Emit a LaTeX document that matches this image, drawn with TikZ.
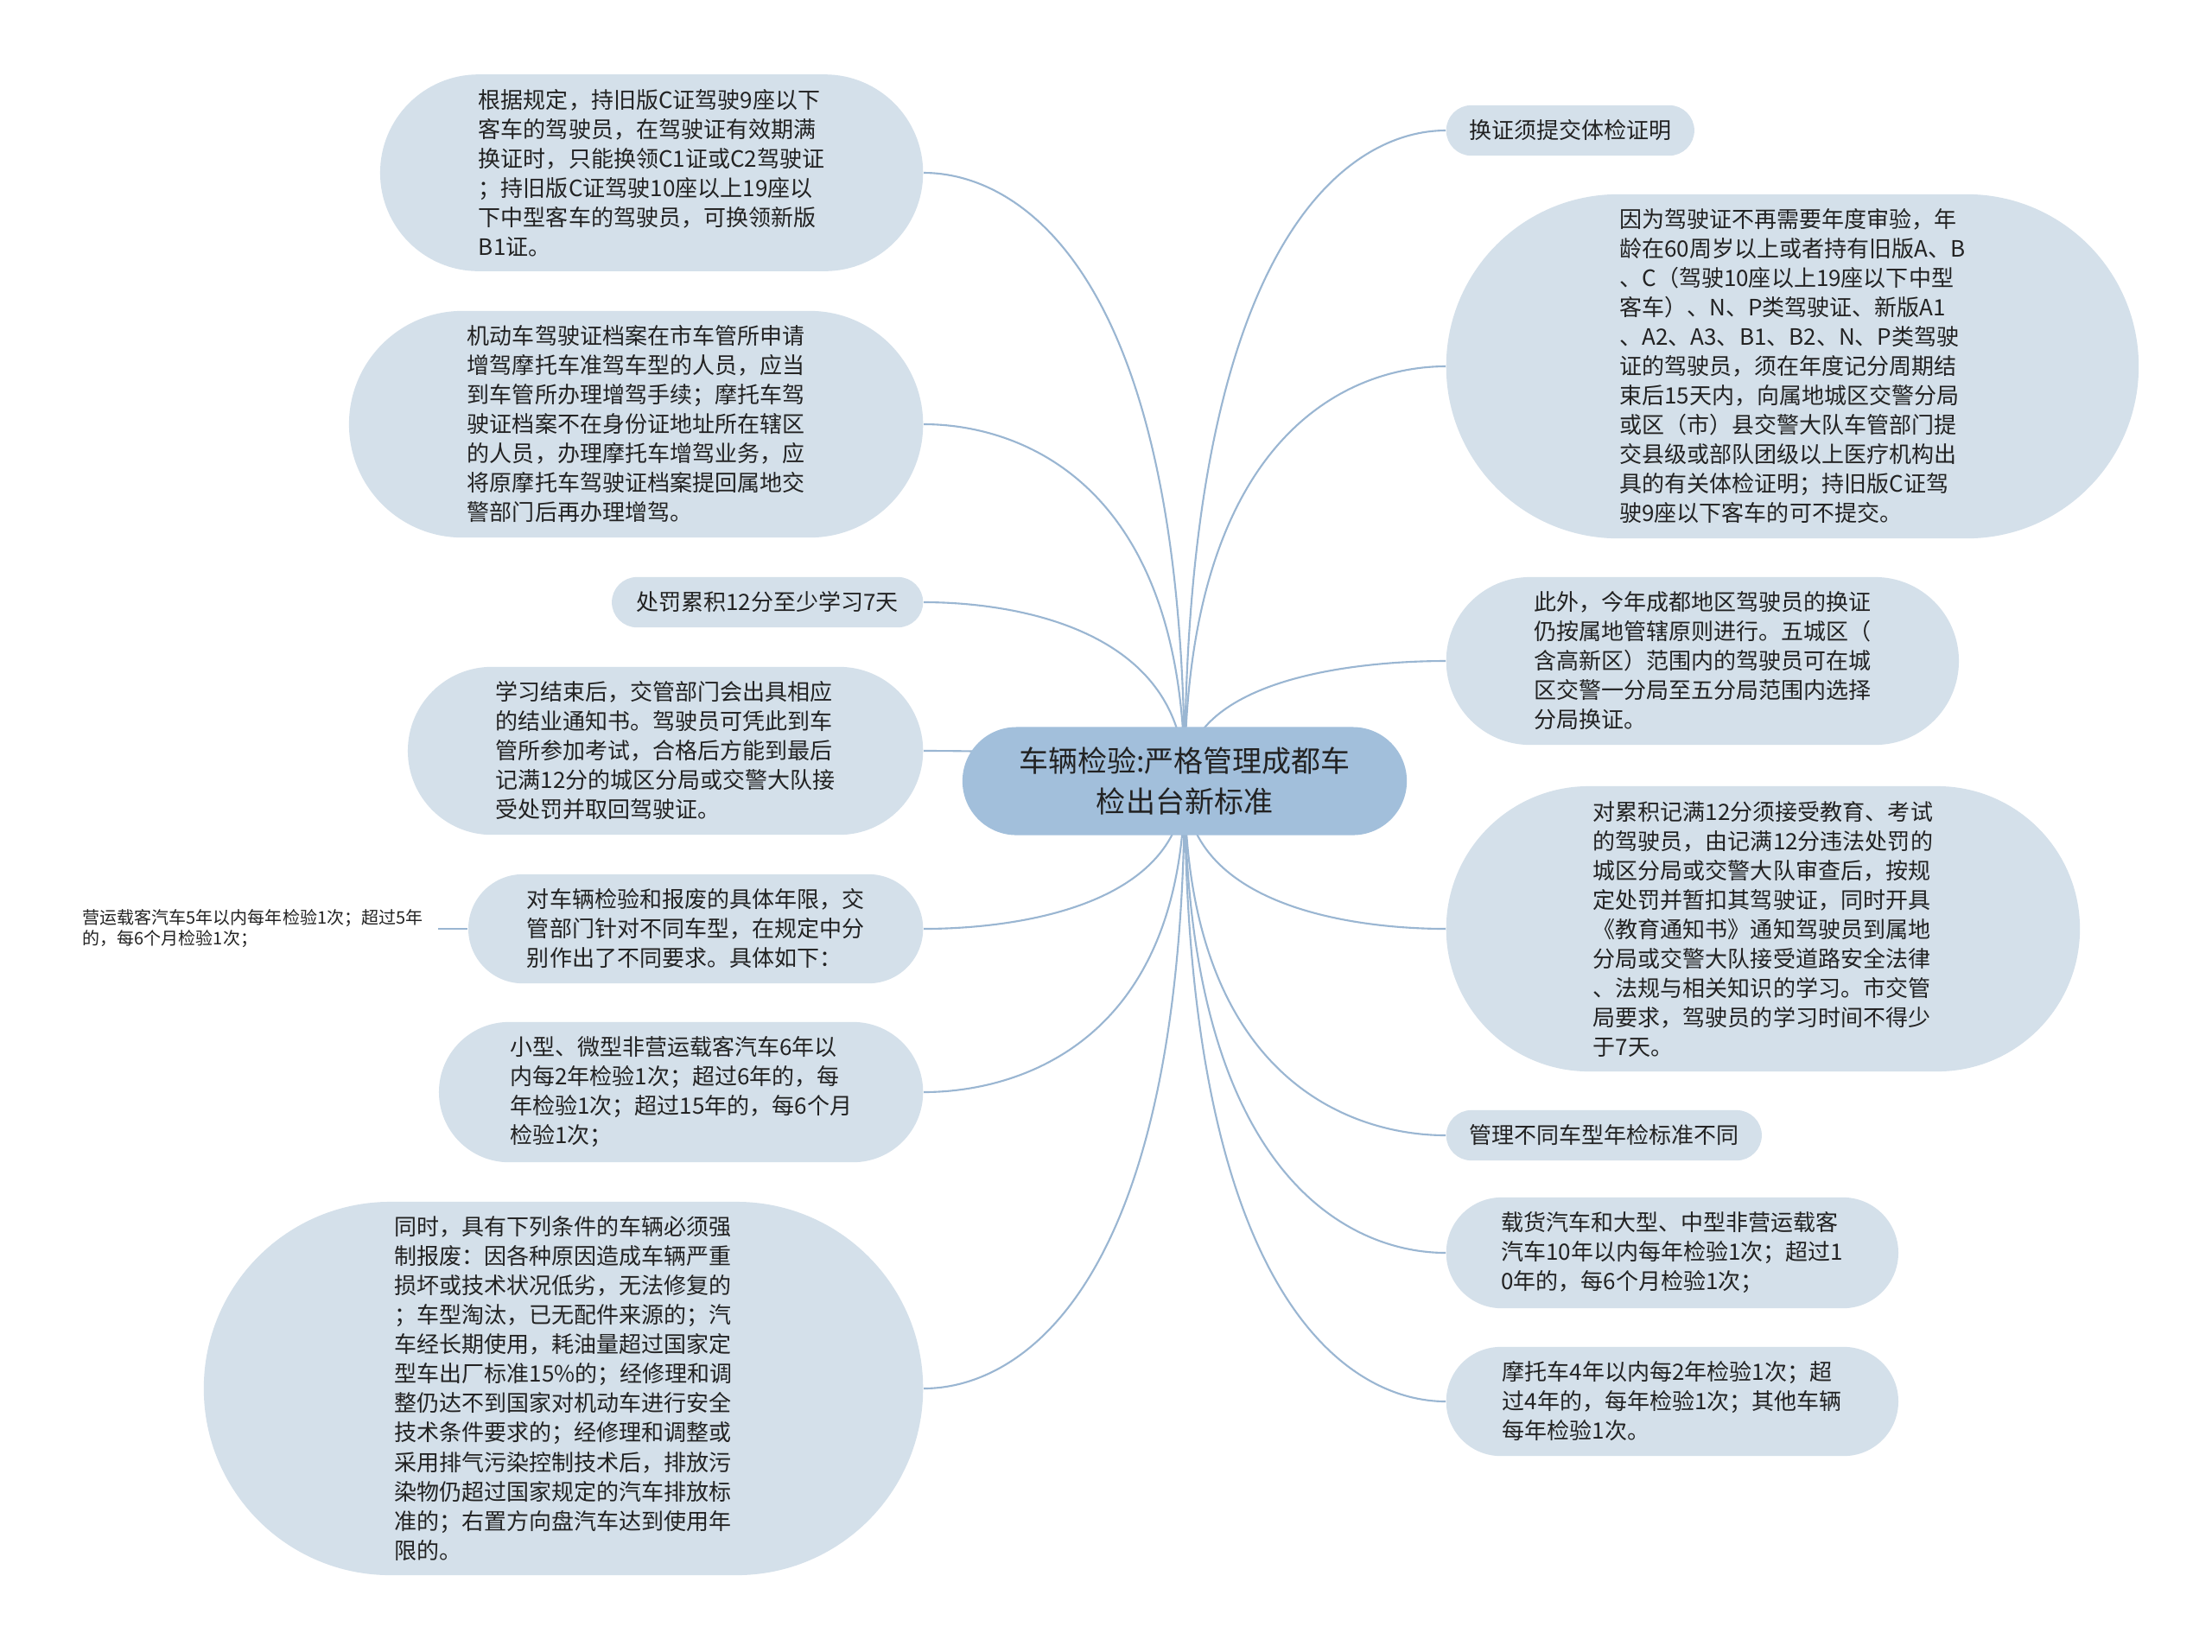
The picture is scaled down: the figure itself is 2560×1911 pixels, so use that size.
\documentclass[tikz,border=0pt]{standalone}
\usepackage{fontspec}
\setmainfont{Noto Sans CJK SC}
\usetikzlibrary{shapes.misc,calc,backgrounds}
\definecolor{hubblue}{HTML}{A2BFDB}
\definecolor{leafblue}{HTML}{D4E0EA}
\definecolor{linkblue}{HTML}{9AB6D2}
\definecolor{inkgray}{HTML}{222222}
\tikzset{
  hubnode/.style  = {rounded rectangle,fill=hubblue,text=inkgray,align=center,
                     inner xsep=0.07cm,inner ysep=0.2cm,minimum height=1.25cm,
                     minimum width=5.28cm,font=\fontsize{9.67}{13.37}\selectfont},
  leafnode/.style = {rounded rectangle,fill=leafblue,text=inkgray,align=left,
                     inner xsep=0pt,inner ysep=0.17cm,minimum width=#1,
                     font=\fontsize{7.4}{9.67}\selectfont},
  leafnode/.default = 3cm,
  notenode/.style = {text=inkgray,align=left,inner xsep=0.17cm,
                     font=\fontsize{5.69}{6.83}\selectfont},
  link/.style     = {linkblue,line width=0.6pt}
}

\begin{document}
\begin{tikzpicture}[x=0.01cm,y=-0.01cm]
  \useasboundingbox (0,0) rectangle (2560,1911);
  \node[hubnode] (hub) at (1371,904) {车辆检验:严格管理成都车\\检出台新标准};
  % left side
  \node[leafnode=6.28cm,anchor=east] (oldC) at (1069,200) {根据规定，持旧版C证驾驶9座以下\\客车的驾驶员，在驾驶证有效期满\\换证时，只能换领C1证或C2驾驶证\\；持旧版C证驾驶10座以上19座以\\下中型客车的驾驶员，可换领新版\\B1证。};
  \node[leafnode=6.64cm,anchor=east] (addMoto) at (1069,491) {机动车驾驶证档案在市车管所申请\\增驾摩托车准驾车型的人员，应当\\到车管所办理增驾手续；摩托车驾\\驶证档案不在身份证地址所在辖区\\的人员，办理摩托车增驾业务，应\\将原摩托车驾驶证档案提回属地交\\警部门后再办理增驾。};
  \node[leafnode=3.6cm,anchor=east] (penalty) at (1069,697) {处罚累积12分至少学习7天};
  \node[leafnode=5.96cm,anchor=east] (afterStudy) at (1069,869) {学习结束后，交管部门会出具相应\\的结业通知书。驾驶员可凭此到车\\管所参加考试，合格后方能到最后\\记满12分的城区分局或交警大队接\\受处罚并取回驾驶证。};
  \node[leafnode=5.26cm,anchor=east] (inspect) at (1069,1075) {对车辆检验和报废的具体年限，交\\管部门针对不同车型，在规定中分\\别作出了不同要求。具体如下：};
  \node[notenode,anchor=east] (busNote) at (507,1075) {营运载客汽车5年以内每年检验1次；超过5年\\的，每6个月检验1次；};
  \node[leafnode=5.6cm,anchor=east] (smallCar) at (1069,1264) {小型、微型非营运载客汽车6年以\\内每2年检验1次；超过6年的，每\\年检验1次；超过15年的，每6个月\\检验1次；};
  \node[leafnode=8.32cm,anchor=east] (scrap) at (1069,1607) {同时，具有下列条件的车辆必须强\\制报废：因各种原因造成车辆严重\\损坏或技术状况低劣，无法修复的\\；车型淘汰，已无配件来源的；汽\\车经长期使用，耗油量超过国家定\\型车出厂标准15\%的；经修理和调\\整仍达不到国家对机动车进行安全\\技术条件要求的；经修理和调整或\\采用排气污染控制技术后，排放污\\染物仍超过国家规定的汽车排放标\\准的；右置方向盘汽车达到使用年\\限的。};
  % right side
  \node[leafnode=2.87cm,anchor=west] (renewExam) at (1673,151) {换证须提交体检证明};
  \node[leafnode=8.01cm,anchor=west] (ageExam) at (1673,424) {因为驾驶证不再需要年度审验，年\\龄在60周岁以上或者持有旧版A、B\\、C（驾驶10座以上19座以下中型\\客车）、N、P类驾驶证、新版A1\\、A2、A3、B1、B2、N、P类驾驶\\证的驾驶员，须在年度记分周期结\\束后15天内，向属地城区交警分局\\或区（市）县交警大队车管部门提\\交县级或部队团级以上医疗机构出\\具的有关体检证明；持旧版C证驾\\驶9座以下客车的可不提交。};
  \node[leafnode=5.93cm,anchor=west] (localRenew) at (1673,765) {此外，今年成都地区驾驶员的换证\\仍按属地管辖原则进行。五城区（\\含高新区）范围内的驾驶员可在城\\区交警一分局至五分局范围内选择\\分局换证。};
  \node[leafnode=7.33cm,anchor=west] (twelvePts) at (1673,1075) {对累积记满12分须接受教育、考试\\的驾驶员，由记满12分违法处罚的\\城区分局或交警大队审查后，按规\\定处罚并暂扣其驾驶证，同时开具\\《教育通知书》通知驾驶员到属地\\分局或交警大队接受道路安全法律\\、法规与相关知识的学习。市交管\\局要求，驾驶员的学习时间不得少\\于7天。};
  \node[leafnode=3.65cm,anchor=west] (diffStd) at (1673,1314) {管理不同车型年检标准不同};
  \node[leafnode=5.23cm,anchor=west] (truckCar) at (1673,1450) {载货汽车和大型、中型非营运载客\\汽车10年以内每年检验1次；超过1\\0年的，每6个月检验1次；};
  \node[leafnode=5.23cm,anchor=west] (motoYears) at (1673,1622) {摩托车4年以内每2年检验1次；超\\过4年的，每年检验1次；其他车辆\\每年检验1次。};
  \begin{scope}[on background layer]
    \fill[white] (0,0) rectangle (2560,1911);
    \foreach \n/\a in {oldC/east,addMoto/east,penalty/east,afterStudy/east,
                       inspect/east,smallCar/east,scrap/east,
                       renewExam/west,ageExam/west,localRenew/west,twelvePts/west,
                       diffStd/west,truckCar/west,motoYears/west}
      \draw[link] (hub.center) .. controls ($(hub.center)!0.85!(hub.center|-\n.\a)$)
        and ($(\n.\a)!0.35!(hub.center|-\n.\a)$) .. (\n.\a);
    \draw[link] (busNote.east) -- (inspect.west);
  \end{scope}
\end{tikzpicture}
\end{document}
